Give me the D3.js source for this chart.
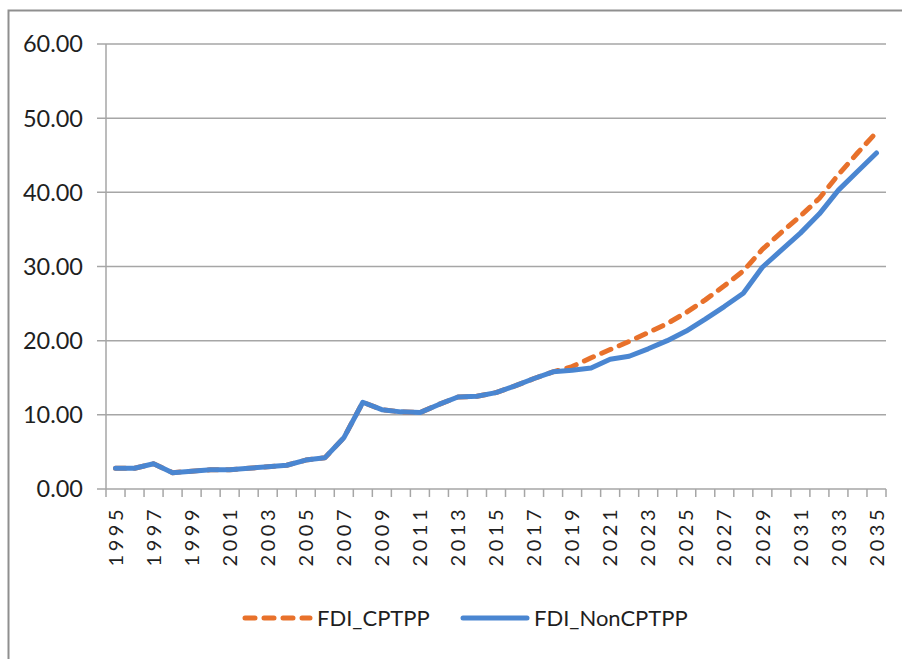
<!DOCTYPE html>
<html>
<head>
<meta charset="utf-8">
<script src="https://cdn.jsdelivr.net/npm/d3@7"></script>
<style>
  body { margin: 0; background: #fff; }
  svg { display: block; font-family: Lato, "Open Sans", sans-serif; }
  .grid line { stroke: #a6a6a6; stroke-width: 1.5; }
  .tick-label { fill: #1f1f1f; font-size: 23.5px; }
  .year-label { fill: #1f1f1f; font-size: 20px; letter-spacing: 3.5px; }
  .legend-label { fill: #1f1f1f; font-size: 22px; }
</style>
</head>
<body>
<svg id="chart" width="902" height="659"></svg>
<script>
const years = [
  1995, 1996, 1997, 1998, 1999, 2000, 2001, 2002, 2003, 2004,
  2005, 2006, 2007, 2008, 2009, 2010, 2011, 2012, 2013, 2014,
  2015, 2016, 2017, 2018, 2019, 2020, 2021, 2022, 2023, 2024,
  2025, 2026, 2027, 2028, 2029, 2030, 2031, 2032, 2033, 2034, 2035,
];

// FDI_CPTPP follows the same path as NonCPTPP until 2018
const fdiCptpp = [
  2.8, 2.8, 3.4, 2.2, 2.4, 2.6, 2.6, 2.8, 3.0, 3.2,
  3.9, 4.2, 6.9, 11.7, 10.7, 10.4, 10.3, 11.4, 12.4, 12.5,
  13.0, 13.9, 14.9, 15.8, 16.5, 17.7, 18.8, 19.9, 21.1, 22.3,
  23.8, 25.5, 27.4, 29.4, 32.3, 34.6, 36.8, 39.2, 42.4, 45.3, 48.1,
];

const fdiNonCptpp = [
  2.8, 2.8, 3.4, 2.2, 2.4, 2.6, 2.6, 2.8, 3.0, 3.2,
  3.9, 4.2, 6.9, 11.7, 10.7, 10.4, 10.3, 11.4, 12.4, 12.5,
  13.0, 13.9, 14.9, 15.8, 16.0, 16.3, 17.5, 17.9, 18.9, 20.0,
  21.3, 22.9, 24.6, 26.4, 29.9, 32.2, 34.5, 37.1, 40.3, 42.8, 45.3,
];

const yTicks = [0, 10, 20, 30, 40, 50, 60];

const SERIES = [
  { name: "FDI_CPTPP", values: fdiCptpp, color: "#e8712b", dash: "10,9" },
  { name: "FDI_NonCPTPP", values: fdiNonCptpp, color: "#4a86d1", dash: null },
];

function drawChart() {
  const svg = d3.select("#chart");
  const plot = { left: 106, right: 886, top: 44, bottom: 489 };

  // outer frame, only its left and top edges fall inside the picture
  svg.append("rect")
    .attr("x", 8.5).attr("y", 10.5)
    .attr("width", 930).attr("height", 700)
    .attr("fill", "none").attr("stroke", "#8f8f8f").attr("stroke-width", 2);

  const x = d3.scaleBand().domain(years).range([plot.left, plot.right]).padding(0);
  const y = d3.scaleLinear().domain([0, 60]).range([plot.bottom, plot.top]);
  const cx = (yr) => x(yr) + x.bandwidth() / 2;

  // horizontal gridlines + y ticks
  const grid = svg.append("g").attr("class", "grid");
  yTicks.forEach((t) => {
    grid.append("line")
      .attr("x1", plot.left - 9).attr("x2", plot.right)
      .attr("y1", y(t)).attr("y2", y(t));
    svg.append("text")
      .attr("class", "tick-label")
      .attr("x", 83).attr("y", y(t))
      .attr("dy", "0.36em")
      .attr("text-anchor", "end")
      .text(d3.format(".2f")(t));
  });

  // y axis line
  grid.append("line")
    .attr("x1", plot.left).attr("x2", plot.left)
    .attr("y1", plot.top).attr("y2", plot.bottom);

  // x tick marks at category boundaries
  const edges = years.map((yr) => x(yr)).concat([plot.right]);
  edges.forEach((ex) => {
    grid.append("line")
      .attr("x1", ex).attr("x2", ex)
      .attr("y1", plot.bottom).attr("y2", plot.bottom + 8);
  });

  // rotated year labels, every other year
  years.filter((yr, i) => i % 2 === 0).forEach((yr) => {
    svg.append("text")
      .attr("class", "year-label")
      .attr("transform", `translate(${cx(yr)},${plot.bottom + 17}) rotate(-90)`)
      .attr("dy", "0.36em")
      .attr("text-anchor", "end")
      .text(yr);
  });

  const line = d3.line()
    .x((d) => cx(d.year))
    .y((d) => y(d.value));

  SERIES.forEach((s) => {
    const pts = years.map((yr, i) => ({ year: yr, value: s.values[i] }));
    svg.append("path")
      .datum(pts)
      .attr("d", line)
      .attr("fill", "none")
      .attr("stroke", s.color)
      .attr("stroke-width", 5)
      .attr("stroke-linejoin", "round")
      .attr("stroke-linecap", "round")
      .attr("stroke-dasharray", s.dash);
  });

  // legend
  const legendY = 618;
  const legendItems = [
    { s: SERIES[0], x0: 245, x1: 310 },
    { s: SERIES[1], x0: 463, x1: 527 },
  ];
  legendItems.forEach(({ s, x0, x1 }) => {
    svg.append("line")
      .attr("x1", x0).attr("x2", x1)
      .attr("y1", legendY).attr("y2", legendY)
      .attr("stroke", s.color)
      .attr("stroke-width", 5)
      .attr("stroke-linecap", "round")
      .attr("stroke-dasharray", s.dash);
    svg.append("text")
      .attr("class", "legend-label")
      .attr("x", x1 + 7).attr("y", legendY)
      .attr("dy", "0.36em")
      .text(s.name);
  });
}

drawChart();
</script>
</body>
</html>
